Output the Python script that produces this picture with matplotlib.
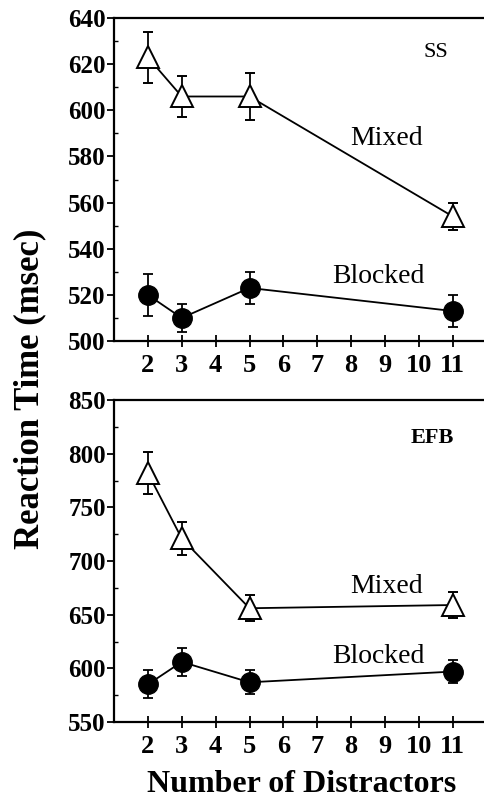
import matplotlib
matplotlib.use("Agg")
import matplotlib.pyplot as plt
from matplotlib.ticker import MultipleLocator

""" Data """
distractors = [2, 3, 5, 11]

ss_mixed = [623, 606, 606, 554]
ss_mixed_err = [11, 9, 10, 6]
ss_blocked = [520, 510, 523, 513]
ss_blocked_err = [9, 6, 7, 7]

efb_mixed = [782, 721, 656, 659]
efb_mixed_err = [20, 15, 12, 12]
efb_blocked = [585, 606, 587, 597]
efb_blocked_err = [13, 13, 11, 11]

x_ticks = [2, 3, 4, 5, 6, 7, 8, 9, 10, 11]

serif = "Liberation Serif"
plt.rcParams['font.family'] = serif

""" Figure """
fig = plt.figure(figsize=(4.84, 8.06), dpi=100)
ax1 = fig.add_axes([0.2355, 0.5769, 0.770, 0.4007])
ax2 = fig.add_axes([0.2355, 0.1042, 0.770, 0.3995])


def panel(ax, mixed, mixed_err, blocked, blocked_err, ylim, major, minor, name, name_pos,
          name_kw, mixed_pos, blocked_pos):
    ax.errorbar(distractors, mixed, yerr=mixed_err, color='black', lw=1.3,
                marker='^', ms=16, mfc='white', mec='black', mew=1.4,
                elinewidth=1.3, capsize=3.5, capthick=1.3, zorder=3)
    ax.errorbar(distractors, blocked, yerr=blocked_err, color='black', lw=1.3,
                marker='o', ms=14, mfc='black', mec='black',
                elinewidth=1.3, capsize=3.5, capthick=1.3, zorder=3)
    ax.set_xlim(1, 12)
    ax.set_ylim(*ylim)
    ax.set_xticks(x_ticks)
    ax.yaxis.set_major_locator(MultipleLocator(major))
    ax.yaxis.set_minor_locator(MultipleLocator(minor))
    ax.spines['right'].set_visible(False)
    for s in ['left', 'bottom', 'top']:
        ax.spines[s].set_linewidth(1.6)
    ax.tick_params(axis='x', direction='inout', length=9, width=1.3, pad=5,
                   labelsize=19)
    ax.tick_params(axis='y', which='major', direction='out', length=5, width=1.3,
                   pad=1, labelsize=18)
    ax.tick_params(axis='y', which='minor', direction='in', length=3, width=1)
    for lab in ax.get_xticklabels() + ax.get_yticklabels():
        lab.set_fontweight('bold')
    ax.text(name_pos[0], name_pos[1], name, transform=ax.transAxes, ha='center',
            va='center', **name_kw)
    ax.text(mixed_pos[0], mixed_pos[1], "Mixed", ha='center', va='center', fontsize=20)
    ax.text(blocked_pos[0], blocked_pos[1], "Blocked", ha='center', va='center', fontsize=20)


panel(ax1, ss_mixed, ss_mixed_err, ss_blocked, ss_blocked_err, (500, 640), 20, 10,
      "SS", (0.864, 0.892), dict(fontsize=16), (9.05, 588), (8.8, 528))
panel(ax2, efb_mixed, efb_mixed_err, efb_blocked, efb_blocked_err, (550, 850), 50, 25,
      "EFB", (0.853, 0.882), dict(fontsize=16, fontweight='bold'), (9.05, 676), (8.8, 611))

fig.text(302 / 484, 1 - 785 / 806, "Number of Distractors", ha='center',
         va='center', fontsize=23, fontweight='bold')
fig.text(0.062, 1 - 389 / 806, "Reaction Time (msec)", rotation=90, ha='center',
         va='center', fontsize=25, fontweight='bold')

fig.savefig("out.png", dpi=100)
